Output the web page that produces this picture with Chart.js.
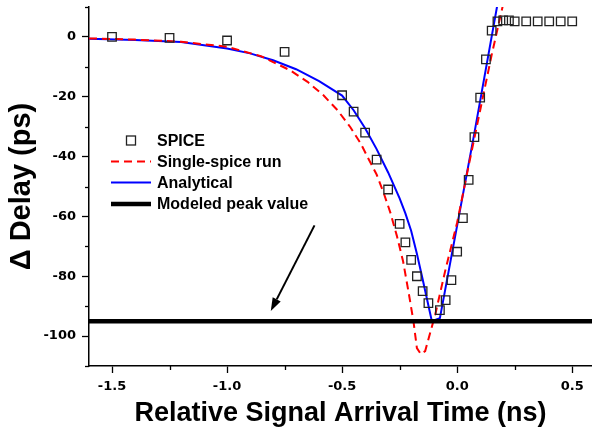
<!DOCTYPE html>
<html lang="en">
<head>
<meta charset="UTF-8">
<title>Delta delay vs relative signal arrival time</title>
<script src="https://cdn.jsdelivr.net/npm/chart.js@4"></script>
<style>
  html, body { margin: 0; padding: 0; background: #fff; }
  #wrap { width: 592px; height: 432px; }
</style>
</head>
<body>
<div id="wrap"><canvas id="delayChart" width="592" height="432"></canvas></div>
<script>
// SPICE simulation points (ns, ps)
const spiceX = [-1.5, -1.25, -1.0, -0.75, -0.5, -0.45, -0.4, -0.35, -0.3, -0.25, -0.225, -0.2, -0.175, -0.15, -0.125,
                -0.075, -0.05, -0.025, 0, 0.025, 0.05, 0.075, 0.1, 0.125, 0.15, 0.175, 0.2, 0.225, 0.25, 0.3, 0.35, 0.4, 0.45, 0.5];
const spiceY = [0, -0.3, -1.2, -5, -19.5, -25, -32, -41, -51, -62.5, -68.7, -74.5, -80, -85, -89,
                -91.3, -88, -81.3, -71.8, -60.6, -47.8, -33.5, -20.3, -7.5, 2.1, 5.2, 5.5, 5.5, 5.2, 5.2, 5.2, 5.2, 5.2, 5.2];

// single-spice run (red dashed)
const singleX = [-1.6, -1.4, -1.2, -1.0, -0.85, -0.725, -0.65, -0.58, -0.52, -0.464, -0.42, -0.385, -0.35, -0.32, -0.29, -0.262, -0.235, -0.211, -0.19, -0.175, -0.158,
                 -0.139, -0.095, -0.052, 0, 0.05, 0.1, 0.15, 0.2];
const singleY = [-0.5, -0.9, -1.6, -3.3, -6.5, -11.2, -15, -19.6, -24.5, -30.2, -35.5, -40.8, -46, -52, -58.8, -66.5, -75, -85.4, -95, -104, -106,
                 -105, -92.7, -78.2, -62, -43, -24.5, -6, 11];

// analytical model (blue)
const analyticX = [-1.6, -1.4, -1.2, -1.0, -0.9, -0.8, -0.7, -0.6, -0.5, -0.45, -0.4, -0.35, -0.3, -0.25, -0.225, -0.2, -0.175, -0.15, -0.13, -0.11,
                   -0.075, 0.074, 0.18];
const analyticY = [-0.6, -1.0, -1.7, -3.9, -5.5, -7.8, -10.8, -14.8, -19.6, -24.5, -30.5, -37.5, -45.3, -54, -59, -64.8, -72.5, -81, -88, -95,
                   -94, -32.5, 13];

// modeled peak value (ps)
const peakValue = -95;

// axes
const xMin = -1.6, xMax = 0.586;
const yMin = -110, yMax = 10;
const xTicks = [-1.5, -1.0, -0.5, 0, 0.5];
const xMinorTicks = [-1.25, -0.75, -0.25, 0.25];
const yTicks = [-100, -80, -60, -40, -20, 0];
const yMinorTicks = [-110, -90, -70, -50, -30, -10, 10];

// annotation arrow (data units)
const arrowFrom = [-0.62, -63];
const arrowTo = [-0.81, -91.6];

const toPts = (xs, ys) => xs.map((v, i) => ({ x: v, y: ys[i] }));

const extras = {
  id: 'extras',
  afterDraw(chart) {
    const { ctx, scales: { x, y } } = chart;
    ctx.save();

    // minor ticks
    ctx.strokeStyle = '#000';
    ctx.lineWidth = 1.3;
    xMinorTicks.forEach(v => {
      const px = Math.round(x.getPixelForValue(v)) + 0.5;
      ctx.beginPath(); ctx.moveTo(px, x.top); ctx.lineTo(px, x.top + 4); ctx.stroke();
    });
    yMinorTicks.forEach(v => {
      const py = Math.round(y.getPixelForValue(v)) + 0.5;
      ctx.beginPath(); ctx.moveTo(y.right, py); ctx.lineTo(y.right - 4, py); ctx.stroke();
    });

    // arrow
    const x1 = x.getPixelForValue(arrowFrom[0]), y1 = y.getPixelForValue(arrowFrom[1]);
    const x2 = x.getPixelForValue(arrowTo[0]), y2 = y.getPixelForValue(arrowTo[1]);
    const ang = Math.atan2(y2 - y1, x2 - x1);
    const headLen = 13, headW = 4.5;
    const bx = x2 - headLen * Math.cos(ang), by = y2 - headLen * Math.sin(ang);
    ctx.lineWidth = 2;
    ctx.beginPath(); ctx.moveTo(x1, y1); ctx.lineTo(bx, by); ctx.stroke();
    ctx.fillStyle = '#000';
    ctx.beginPath();
    ctx.moveTo(x2, y2);
    ctx.lineTo(bx + headW * Math.sin(ang), by - headW * Math.cos(ang));
    ctx.lineTo(bx - headW * Math.sin(ang), by + headW * Math.cos(ang));
    ctx.closePath(); ctx.fill();

    // legend
    const rows = [140.5, 161.5, 182.5, 204];
    const sx0 = 111, sx1 = 151, tx = 157;
    ctx.font = 'bold 16px "Liberation Sans", Arial, sans-serif';
    ctx.textBaseline = 'middle';
    ctx.textAlign = 'left';
    chart.data.datasets.forEach((ds, i) => {
      const ry = rows[i];
      ctx.strokeStyle = ds.borderColor;
      ctx.lineWidth = ds.borderWidth;
      if (ds.showLine === false) {
        ctx.setLineDash([]);
        ctx.strokeRect(126.5, ry - 4.5, 9, 9);
      } else {
        ctx.setLineDash(ds.borderDash || []);
        ctx.beginPath(); ctx.moveTo(sx0, ry); ctx.lineTo(sx1, ry); ctx.stroke();
        ctx.setLineDash([]);
      }
      ctx.fillStyle = '#000';
      ctx.fillText(ds.label, tx, ry + 1);
    });
    ctx.restore();
  }
};

const tickFont = { family: '"DejaVu Sans", sans-serif', size: 13, weight: 'bold' };
const titleFont = { family: '"Liberation Sans", Arial, sans-serif', size: 27, weight: 'bold' };

new Chart(document.getElementById('delayChart'), {
  type: 'line',
  data: {
    datasets: [
      {
        label: 'SPICE',
        data: toPts(spiceX, spiceY),
        showLine: false,
        pointStyle: 'rect',
        pointRadius: 6,
        pointBorderWidth: 1.3,
        borderWidth: 1.3,
        borderColor: '#222',
        pointBackgroundColor: 'rgba(0,0,0,0)',
        order: 0
      },
      {
        label: 'Single-spice run',
        data: toPts(singleX, singleY),
        borderColor: '#ff0000',
        borderWidth: 2,
        borderDash: [8, 5],
        pointRadius: 0,
        tension: 0,
        order: 2
      },
      {
        label: 'Analytical',
        data: toPts(analyticX, analyticY),
        borderColor: '#0000ff',
        borderWidth: 2,
        pointRadius: 0,
        tension: 0,
        order: 3
      },
      {
        label: 'Modeled peak value',
        data: [{ x: xMin, y: peakValue }, { x: xMax, y: peakValue }],
        borderColor: '#000',
        borderWidth: 4.5,
        pointRadius: 0,
        order: 1
      }
    ]
  },
  options: {
    responsive: false,
    animation: false,
    layout: { autoPadding: false, padding: { top: 7, right: 0, left: 0, bottom: 0 } },
    plugins: { legend: { display: false }, tooltip: { enabled: false } },
    scales: {
      x: {
        type: 'linear',
        min: xMin,
        max: xMax,
        afterBuildTicks: s => { s.ticks = xTicks.map(v => ({ value: v })); },
        afterFit: s => { s.height = 66; s.paddingLeft = 0; s.paddingRight = 0; },
        ticks: { font: tickFont, color: '#000', padding: 6, maxRotation: 0, callback: v => v.toFixed(1) },
        grid: { drawOnChartArea: false, drawTicks: true, tickLength: 7, tickWidth: 1.3, color: '#000' },
        border: { display: true, color: '#000', width: 1.5 },
        title: { display: true, text: 'Relative Signal Arrival Time (ns)', font: titleFont, color: '#000', padding: { top: 0, bottom: 2 } }
      },
      y: {
        type: 'linear',
        min: yMin,
        max: yMax,
        afterBuildTicks: s => { s.ticks = yTicks.map(v => ({ value: v })); },
        afterFit: s => { s.width = 89; s.paddingTop = 0; s.paddingBottom = 0; },
        ticks: { font: tickFont, color: '#000', padding: 6, callback: v => String(v) },
        grid: { drawOnChartArea: false, drawTicks: true, tickLength: 7, tickWidth: 1.3, color: '#000' },
        border: { display: true, color: '#000', width: 1.5 },
        title: { display: true, text: '\u0394 Delay (ps)', font: { ...titleFont, size: 29 }, color: '#000', padding: { top: 5, bottom: 0 } }
      }
    }
  },
  plugins: [extras]
});
</script>
</body>
</html>
